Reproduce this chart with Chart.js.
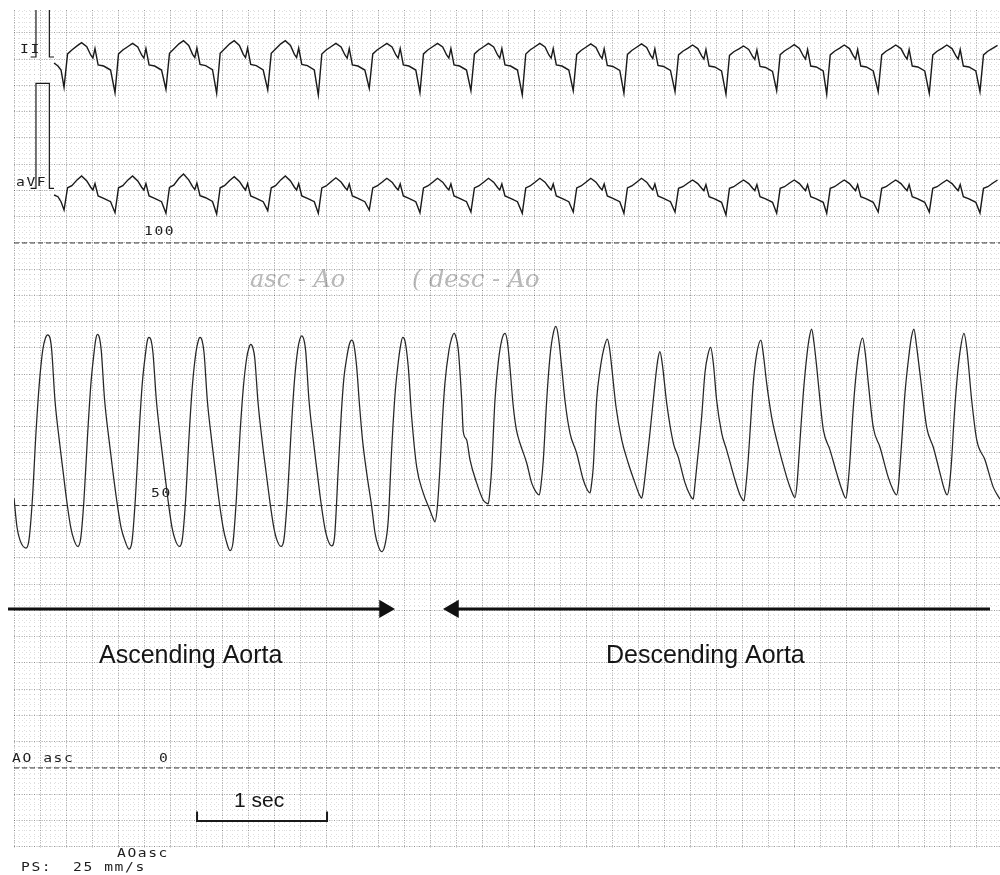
<!DOCTYPE html>
<html>
<head>
<meta charset="utf-8">
<script src="https://cdn.jsdelivr.net/npm/chart.js@4.4.1/dist/chart.umd.min.js"></script>
<style>
  html, body { margin: 0; padding: 0; background: #ffffff; }
  #wrap { width: 1000px; height: 875px; position: relative; }
</style>
</head>
<body>
<div id="wrap"><canvas id="c" width="1000" height="875"></canvas></div>
<script>
// Aortic pressure (mmHg) vs time (s)
const pressureTime = [
  0.000, 0.023, 0.046, 0.092,
  0.115, 0.141, 0.169, 0.195, 0.221, 0.242, 0.259, 0.277, 0.290, 0.315, 0.348, 0.379, 0.405, 0.436, 0.462, 0.490,
  0.513, 0.538, 0.567, 0.592, 0.618, 0.628, 0.641, 0.658, 0.671, 0.697, 0.731, 0.762, 0.790, 0.823, 0.852, 0.885,
  0.908, 0.933, 0.962, 0.987, 1.013, 1.025, 1.038, 1.056, 1.069, 1.095, 1.128, 1.159, 1.185, 1.215, 1.241, 1.272,
  1.295, 1.320, 1.348, 1.374, 1.400, 1.417, 1.431, 1.448, 1.462, 1.487, 1.520, 1.551, 1.577, 1.608, 1.633, 1.662,
  1.685, 1.710, 1.738, 1.764, 1.790, 1.807, 1.821, 1.838, 1.852, 1.877, 1.910, 1.941, 1.967, 1.998, 2.023, 2.054,
  2.077, 2.102, 2.131, 2.156, 2.182, 2.199, 2.213, 2.231, 2.244, 2.269, 2.302, 2.333, 2.359, 2.390, 2.415, 2.444,
  2.465, 2.495, 2.518, 2.538, 2.562, 2.581, 2.598, 2.615, 2.636, 2.658, 2.681, 2.713, 2.752, 2.777, 2.802, 2.828,
  2.854, 2.879, 2.905, 2.931, 2.956, 2.975, 2.990, 3.008, 3.033, 3.059, 3.098, 3.148, 3.200, 3.223, 3.238,
  3.258, 3.277, 3.296, 3.315, 3.346, 3.365, 3.385, 3.402, 3.418, 3.444, 3.456, 3.482, 3.508, 3.559, 3.610, 3.631, 3.648,
  3.662, 3.675, 3.700, 3.725, 3.752, 3.777, 3.796, 3.815, 3.841, 3.865, 3.892, 3.944, 3.982, 4.015, 4.041,
  4.054, 4.072, 4.098, 4.123, 4.146, 4.169, 4.188, 4.213, 4.238, 4.277, 4.328, 4.379, 4.408, 4.431,
  4.442, 4.456, 4.482, 4.508, 4.535, 4.564, 4.581, 4.598, 4.631, 4.675, 4.725, 4.777, 4.808, 4.828,
  4.842, 4.854, 4.892, 4.931, 4.952, 4.969, 4.988, 5.021, 5.072, 5.110, 5.162, 5.200, 5.225,
  5.238, 5.252, 5.290, 5.315, 5.338, 5.359, 5.381, 5.405, 5.444, 5.482, 5.546, 5.585, 5.615,
  5.631, 5.648, 5.668, 5.687, 5.712, 5.746, 5.765, 5.790, 5.828, 5.867, 5.944, 5.977, 6.008,
  6.023, 6.033, 6.052, 6.072, 6.100, 6.119, 6.136, 6.154, 6.175, 6.200, 6.226, 6.277, 6.328, 6.369, 6.400,
  6.415, 6.431, 6.450, 6.469, 6.496, 6.528, 6.550, 6.572, 6.610, 6.662, 6.725, 6.762, 6.790,
  6.804, 6.815, 6.835, 6.854, 6.885, 6.904, 6.923, 6.942, 6.969, 7.021, 7.072, 7.123, 7.154, 7.179,
  7.196, 7.213, 7.231, 7.252, 7.277, 7.308, 7.331, 7.367, 7.406, 7.469, 7.533, 7.585
];
const pressureMmHg = [
  51.4, 45.9, 43.4, 41.9,
  43.4, 51.0, 63.8, 73.3, 79.6, 81.9, 82.5, 81.9, 79.6, 70.1, 62.5, 56.2, 51.0, 45.9, 43.4, 42.2,
  43.7, 51.0, 63.8, 73.3, 79.6, 81.5, 82.6, 81.9, 79.6, 70.1, 62.5, 56.2, 51.0, 45.9, 43.4, 41.7,
  43.2, 51.0, 63.8, 73.3, 79.2, 81.3, 82.0, 81.3, 79.1, 70.1, 62.5, 56.2, 51.0, 45.9, 43.4, 42.2,
  43.6, 51.0, 63.8, 73.3, 79.2, 81.3, 82.0, 81.3, 79.1, 70.1, 62.5, 56.2, 51.0, 45.9, 43.2, 41.4,
  43.0, 51.0, 63.4, 72.4, 78.1, 80.0, 80.7, 80.0, 78.1, 69.7, 62.1, 56.0, 51.0, 45.9, 43.4, 42.2,
  43.6, 51.0, 63.8, 73.3, 79.6, 81.7, 82.3, 81.5, 79.4, 70.1, 62.5, 56.2, 51.0, 45.9, 43.4, 42.3,
  43.8, 57.3, 67.6, 74.3, 78.5, 80.8, 81.5, 80.6, 76.4, 69.1, 62.5, 56.2, 49.7, 44.8, 42.3, 41.2,
  42.5, 47.2, 60.6, 71.1, 77.3, 80.6, 82.0, 81.3, 76.4, 66.9, 57.3, 52.4, 49.1, 47.6, 46.9,
  50.1, 57.3, 66.3, 73.3, 79.6, 81.7, 82.8, 81.9, 79.6, 70.1, 64.1, 62.5, 58.7, 54.3, 51.0, 50.5, 50.3,
  53.0, 57.3, 70.1, 77.2, 81.5, 82.8, 81.1, 76.4, 68.8, 64.4, 61.9, 58.1, 54.3, 52.6, 52.0,
  53.9, 58.7, 70.1, 78.3, 82.5, 84.1, 82.1, 76.4, 70.1, 63.8, 60.0, 54.9, 53.1, 52.4,
  53.9, 57.3, 70.1, 75.8, 79.6, 81.7, 80.0, 76.4, 68.8, 62.5, 58.1, 54.3, 52.2, 51.4,
  53.0, 55.4, 63.8, 73.3, 77.7, 79.3, 76.8, 69.5, 61.9, 59.2, 54.3, 52.0, 51.2,
  53.9, 57.3, 66.9, 75.2, 78.7, 80.1, 76.8, 70.1, 63.8, 60.6, 54.9, 52.0, 50.9,
  53.9, 58.7, 66.3, 73.3, 78.7, 81.5, 78.7, 73.3, 66.9, 62.5, 55.4, 53.0, 51.5,
  53.9, 57.3, 64.4, 71.4, 78.7, 82.1, 83.6, 81.0, 76.4, 70.1, 64.4, 60.6, 56.2, 53.0, 51.4,
  53.9, 58.7, 66.3, 72.6, 78.7, 81.9, 78.7, 73.3, 64.9, 61.1, 55.4, 53.0, 52.0,
  53.9, 57.3, 64.4, 71.4, 78.7, 82.1, 83.6, 80.6, 75.2, 64.9, 61.1, 56.2, 53.3, 52.0,
  53.9, 58.7, 66.3, 73.3, 79.2, 82.8, 79.6, 70.1, 62.5, 58.7, 53.5, 51.2
];

// ECG leads II and aVF (mV) on a shared time base (s)
const ecgTime = [
  0.308, 0.338, 0.362,
  0.385, 0.412, 0.445, 0.485, 0.520, 0.560, 0.590, 0.607, 0.623, 0.647, 0.690, 0.743,
  0.777, 0.804, 0.837, 0.877, 0.912, 0.952, 0.982, 0.999, 1.015, 1.039, 1.082, 1.135,
  1.169, 1.196, 1.229, 1.269, 1.304, 1.344, 1.374, 1.391, 1.407, 1.431, 1.474, 1.527,
  1.559, 1.586, 1.619, 1.659, 1.694, 1.734, 1.764, 1.781, 1.797, 1.821, 1.864, 1.917,
  1.952, 1.979, 2.012, 2.052, 2.087, 2.127, 2.157, 2.174, 2.190, 2.214, 2.257, 2.310,
  2.341, 2.368, 2.401, 2.441, 2.476, 2.516, 2.546, 2.563, 2.579, 2.603, 2.646, 2.699,
  2.733, 2.760, 2.793, 2.833, 2.868, 2.908, 2.938, 2.955, 2.971, 2.995, 3.038, 3.091,
  3.123, 3.150, 3.183, 3.223, 3.258, 3.298, 3.328, 3.345, 3.361, 3.385, 3.428, 3.481,
  3.515, 3.542, 3.575, 3.615, 3.650, 3.690, 3.720, 3.737, 3.753, 3.777, 3.820, 3.873,
  3.910, 3.937, 3.970, 4.010, 4.045, 4.085, 4.115, 4.132, 4.148, 4.172, 4.215, 4.268,
  4.302, 4.329, 4.362, 4.402, 4.437, 4.477, 4.507, 4.524, 4.540, 4.564, 4.607, 4.660,
  4.692, 4.719, 4.752, 4.792, 4.827, 4.867, 4.897, 4.914, 4.930, 4.954, 4.997, 5.050,
  5.085, 5.112, 5.145, 5.185, 5.220, 5.260, 5.290, 5.307, 5.323, 5.347, 5.390, 5.443,
  5.477, 5.504, 5.537, 5.577, 5.612, 5.652, 5.682, 5.699, 5.715, 5.739, 5.782, 5.835,
  5.867, 5.894, 5.927, 5.967, 6.002, 6.042, 6.072, 6.089, 6.105, 6.129, 6.172, 6.225,
  6.252, 6.279, 6.312, 6.352, 6.387, 6.427, 6.457, 6.474, 6.490, 6.514, 6.557, 6.610,
  6.648, 6.675, 6.708, 6.748, 6.783, 6.823, 6.853, 6.870, 6.886, 6.910, 6.953, 7.006,
  7.041, 7.068, 7.101, 7.141, 7.176, 7.216, 7.246, 7.263, 7.279, 7.303, 7.346, 7.399,
  7.431, 7.458, 7.491, 7.531, 7.566
];
const leadII = [
  -0.057, -0.086, -0.124,
  -0.289, 0.029, 0.067, 0.106, 0.136, 0.098, 0.019, -0.010, 0.081, -0.076, -0.086, -0.124,
  -0.340, 0.029, 0.067, 0.100, 0.130, 0.095, 0.019, -0.010, 0.081, -0.076, -0.086, -0.124,
  -0.308, 0.035, 0.075, 0.125, 0.155, 0.110, 0.025, -0.005, 0.085, -0.070, -0.082, -0.120,
  -0.346, 0.035, 0.075, 0.125, 0.155, 0.110, 0.025, -0.005, 0.085, -0.070, -0.082, -0.124,
  -0.314, 0.035, 0.075, 0.125, 0.155, 0.110, 0.025, -0.005, 0.085, -0.070, -0.082, -0.124,
  -0.362, 0.029, 0.067, 0.100, 0.130, 0.095, 0.019, -0.010, 0.081, -0.076, -0.086, -0.124,
  -0.298, 0.029, 0.067, 0.100, 0.130, 0.095, 0.019, -0.010, 0.081, -0.076, -0.086, -0.124,
  -0.340, 0.029, 0.067, 0.100, 0.130, 0.095, 0.019, -0.010, 0.081, -0.076, -0.086, -0.124,
  -0.321, 0.029, 0.067, 0.100, 0.130, 0.095, 0.019, -0.010, 0.081, -0.076, -0.086, -0.124,
  -0.362, 0.029, 0.067, 0.100, 0.130, 0.095, 0.019, -0.010, 0.081, -0.076, -0.086, -0.124,
  -0.321, 0.025, 0.062, 0.095, 0.125, 0.090, 0.015, -0.014, 0.078, -0.080, -0.090, -0.128,
  -0.346, 0.025, 0.062, 0.095, 0.125, 0.090, 0.015, -0.014, 0.078, -0.080, -0.090, -0.128,
  -0.330, 0.020, 0.055, 0.085, 0.114, 0.080, 0.010, -0.019, 0.071, -0.086, -0.095, -0.133,
  -0.355, 0.015, 0.050, 0.078, 0.105, 0.072, 0.005, -0.024, 0.067, -0.090, -0.100, -0.137,
  -0.321, 0.022, 0.057, 0.088, 0.117, 0.082, 0.010, -0.019, 0.071, -0.086, -0.095, -0.133,
  -0.355, 0.020, 0.055, 0.085, 0.114, 0.080, 0.010, -0.019, 0.071, -0.086, -0.095, -0.133,
  -0.330, 0.020, 0.055, 0.085, 0.114, 0.080, 0.010, -0.019, 0.071, -0.086, -0.095, -0.133,
  -0.346, 0.020, 0.055, 0.085, 0.114, 0.080, 0.010, -0.019, 0.071, -0.086, -0.095, -0.133,
  -0.330, 0.020, 0.055, 0.085, 0.110
];
const leadAVF = [
  -0.064, -0.080, -0.128,
  -0.207, 0.005, 0.025, 0.080, 0.117, 0.070, 0.010, -0.016, 0.045, -0.073, -0.095, -0.128,
  -0.232, 0.005, 0.025, 0.080, 0.117, 0.070, 0.010, -0.016, 0.045, -0.073, -0.095, -0.128,
  -0.238, 0.008, 0.030, 0.095, 0.136, 0.080, 0.015, -0.012, 0.050, -0.070, -0.090, -0.125,
  -0.245, 0.005, 0.025, 0.075, 0.110, 0.065, 0.010, -0.016, 0.045, -0.073, -0.095, -0.128,
  -0.213, 0.005, 0.025, 0.080, 0.117, 0.070, 0.010, -0.016, 0.045, -0.073, -0.095, -0.128,
  -0.238, 0.003, 0.022, 0.065, 0.100, 0.060, 0.008, -0.016, 0.041, -0.073, -0.095, -0.128,
  -0.207, 0.003, 0.022, 0.060, 0.095, 0.058, 0.008, -0.016, 0.041, -0.073, -0.095, -0.128,
  -0.232, 0.003, 0.022, 0.060, 0.095, 0.058, 0.008, -0.016, 0.041, -0.073, -0.095, -0.128,
  -0.226, 0.003, 0.022, 0.060, 0.095, 0.058, 0.008, -0.016, 0.041, -0.073, -0.095, -0.128,
  -0.238, 0.003, 0.022, 0.060, 0.095, 0.058, 0.008, -0.016, 0.041, -0.073, -0.095, -0.128,
  -0.226, 0.003, 0.022, 0.060, 0.095, 0.058, 0.008, -0.016, 0.041, -0.073, -0.095, -0.128,
  -0.238, 0.003, 0.022, 0.060, 0.095, 0.058, 0.008, -0.016, 0.041, -0.073, -0.095, -0.128,
  -0.226, 0.000, 0.015, 0.050, 0.079, 0.045, 0.000, -0.022, 0.035, -0.080, -0.100, -0.133,
  -0.254, 0.000, 0.015, 0.050, 0.079, 0.045, 0.000, -0.022, 0.035, -0.080, -0.100, -0.133,
  -0.238, 0.000, 0.015, 0.050, 0.079, 0.045, 0.000, -0.022, 0.035, -0.080, -0.100, -0.133,
  -0.238, 0.000, 0.015, 0.050, 0.079, 0.045, 0.000, -0.022, 0.035, -0.080, -0.100, -0.133,
  -0.226, 0.000, 0.015, 0.050, 0.079, 0.045, 0.000, -0.022, 0.035, -0.080, -0.100, -0.133,
  -0.226, 0.000, 0.015, 0.050, 0.079, 0.045, 0.000, -0.022, 0.035, -0.080, -0.100, -0.133,
  -0.235, 0.000, 0.015, 0.050, 0.079
];

// 1 mV calibration pulses (shared shape for both leads)
const calTime = [0.128, 0.169, 0.169, 0.272, 0.272, 0.308];
const calMv   = [0, 0, 1, 1, 0, 0];

// Pressure reference levels (mmHg) and their printed labels
const refLevels = [100, 50, 0];
const refLabels = ['100', '50', '0'];

// Recording window (s) and 1-second scale bar
const timeRange = [0, 7.585];
const scaleBarTime = [1.408, 2.408];
const scaleBarMmHg = [-8.3, -10.1];

// Catheter position arrows (s) at a pressure-scale level (mmHg)
const ascArrowTime = [-0.046, 2.85];
const descArrowTime = [3.381, 7.508];
const arrowLevel = 30.3;

// ---------- CHART ----------
const pts = (xs, ys) => xs.map((x, i) => ({ x: x, y: ys[i] }));

const datasets = [];
refLevels.forEach(v => datasets.push({
  data: pts(timeRange, [v, v]), xAxisID: 'x', yAxisID: 'y',
  borderColor: '#3a3a3a', borderWidth: 1, borderDash: [5, 3], pointRadius: 0, tension: 0
}));
datasets.push({
  data: pts(pressureTime, pressureMmHg), xAxisID: 'x', yAxisID: 'y',
  borderColor: '#262626', borderWidth: 1.25, pointRadius: 0, cubicInterpolationMode: 'monotone'
});
datasets.push({
  data: pts(ecgTime, leadII), xAxisID: 'x', yAxisID: 'yII',
  borderColor: '#1a1a1a', borderWidth: 1.4, pointRadius: 0, tension: 0
});
datasets.push({
  data: pts(ecgTime, leadAVF), xAxisID: 'x', yAxisID: 'yAVF',
  borderColor: '#1a1a1a', borderWidth: 1.4, pointRadius: 0, tension: 0
});
datasets.push({
  data: pts(calTime, calMv), xAxisID: 'x', yAxisID: 'yII',
  borderColor: '#1a1a1a', borderWidth: 1.2, pointRadius: 0, tension: 0
});
datasets.push({
  data: pts(calTime, calMv), xAxisID: 'x', yAxisID: 'yAVF',
  borderColor: '#1a1a1a', borderWidth: 1.2, pointRadius: 0, tension: 0
});
datasets.push({
  data: pts([scaleBarTime[0], scaleBarTime[0], scaleBarTime[1], scaleBarTime[1]],
            [scaleBarMmHg[0], scaleBarMmHg[1], scaleBarMmHg[1], scaleBarMmHg[0]]),
  xAxisID: 'x', yAxisID: 'y', borderColor: '#1a1a1a', borderWidth: 2, pointRadius: 0, tension: 0
});
datasets.push({
  data: pts(ascArrowTime, [arrowLevel, arrowLevel]), xAxisID: 'x', yAxisID: 'y', clip: false,
  borderColor: '#111', borderWidth: 3, tension: 0,
  pointRadius: [0, 10.5], pointStyle: 'triangle', pointRotation: 90,
  pointBackgroundColor: '#111', pointBorderColor: '#111', pointBorderWidth: 0
});
datasets.push({
  data: pts(descArrowTime, [arrowLevel, arrowLevel]), xAxisID: 'x', yAxisID: 'y', clip: false,
  borderColor: '#111', borderWidth: 3, tension: 0,
  pointRadius: [10.5, 0], pointStyle: 'triangle', pointRotation: -90,
  pointBackgroundColor: '#111', pointBorderColor: '#111', pointBorderWidth: 0
});

const Y_MIN = -15.24, Y_MAX = 144.38;
const gridScale = (axis, min, max, step, color, dash) => ({
  type: 'linear', axis: axis, position: axis === 'x' ? 'bottom' : 'left',
  min: min, max: max, display: true,
  ticks: { display: false, stepSize: step, includeBounds: false },
  grid: { drawTicks: false, color: color, lineWidth: 1 },
  border: { display: false, dash: dash }
});

function monoText(ctx, text, x, y) {
  ctx.save();
  ctx.translate(x, y);
  ctx.scale(1.22, 1);
  ctx.fillText(text, 0, 0);
  ctx.restore();
}

const labelPlugin = {
  id: 'labels',
  afterDatasetsDraw(chart) {
    const ctx = chart.ctx;
    const ys = chart.scales.y;
    ctx.save();
    ctx.fillStyle = '#1e1e1e';
    ctx.textBaseline = 'alphabetic';
    ctx.textAlign = 'left';
    ctx.font = '12px "DejaVu Sans Mono"';
    ctx.letterSpacing = '1.3px';
    monoText(ctx, 'II', 20, 53);
    monoText(ctx, 'aVF', 16, 186);
    monoText(ctx, refLabels[0], 144, ys.getPixelForValue(refLevels[0]) - 8);
    monoText(ctx, refLabels[1], 151, ys.getPixelForValue(refLevels[1]) - 8);
    monoText(ctx, 'AO asc', 12, ys.getPixelForValue(refLevels[2]) - 6);
    monoText(ctx, refLabels[2], 159, ys.getPixelForValue(refLevels[2]) - 6);
    monoText(ctx, 'AOasc', 117, 857);
    monoText(ctx, 'PS:  25 mm/s', 21, 871);
    ctx.letterSpacing = '0px';
    ctx.fillStyle = '#151515';
    ctx.font = '25px "Liberation Sans", Arial, sans-serif';
    ctx.fillText('Ascending Aorta', 99, 663);
    ctx.fillText('Descending Aorta', 606, 663);
    ctx.font = '21px "Liberation Sans", Arial, sans-serif';
    ctx.fillText('1 sec', 234, 807);
    // faint handwriting
    ctx.fillStyle = 'rgba(70,70,70,0.38)';
    ctx.font = 'italic 24px "DejaVu Serif", serif';
    ctx.fillText('asc - Ao', 250, 287);
    ctx.fillText('( desc - Ao', 412, 287);
    ctx.restore();
  }
};

new Chart(document.getElementById('c'), {
  type: 'line',
  data: { datasets: datasets },
  options: {
    responsive: false,
    devicePixelRatio: 1,
    animation: false,
    events: [],
    layout: { autoPadding: false, padding: { left: 14, top: 10, right: 0, bottom: 27 } },
    plugins: { legend: { display: false }, tooltip: { enabled: false }, title: { display: false } },
    scales: {
      gxMinor: gridScale('x', 0, 189.6, 1, 'rgba(0,0,0,0.13)', [1, 3]),
      gxMajor: gridScale('x', 0, 189.6, 5, 'rgba(0,0,0,0.30)', [1, 1.5]),
      gyMinor: gridScale('y', Y_MIN, Y_MAX, 1, 'rgba(0,0,0,0.13)', [1, 3]),
      gyMajor: gridScale('y', Y_MIN, Y_MAX, 5, 'rgba(0,0,0,0.30)', [1, 1.5]),
      x: { type: 'linear', min: timeRange[0], max: timeRange[1], display: false },
      y: { type: 'linear', min: Y_MIN, max: Y_MAX, display: false },
      yII: { type: 'linear', min: -7.533, max: 0.4476, display: false },
      yAVF: { type: 'linear', min: -6.283, max: 1.698, display: false }
    }
  },
  plugins: [labelPlugin]
});
</script>
</body>
</html>
